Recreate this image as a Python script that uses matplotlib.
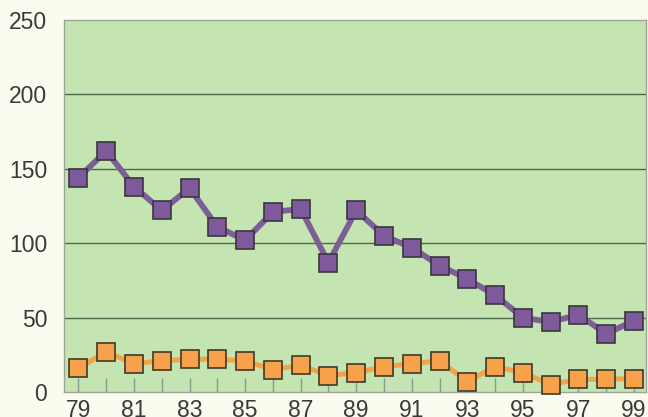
import matplotlib
matplotlib.use("Agg")
import matplotlib.pyplot as plt

years = list(range(79, 100))
purple_series = [144, 162, 138, 122, 137, 111, 102, 121, 123, 87, 122,
                 105, 97, 85, 76, 65, 50, 47, 52, 39, 48]
orange_series = [16, 27, 19, 21, 22, 22, 21, 15, 18, 11, 13,
                 17, 19, 21, 7, 17, 13, 5, 8.5, 8.5, 9]
x_tick_years = list(range(79, 100, 2))
y_ticks = [0, 50, 100, 150, 200, 250]

plt.rcParams['font.family'] = ['Liberation Sans', 'DejaVu Sans']

fig = plt.figure(figsize=(6.48, 4.17), dpi=100, facecolor='#fbfbef')
ax = fig.add_axes([0.0988, 0.060, 0.898, 0.892])
ax.set_facecolor('#c4e4b1')

ax.set_xlim(78.48, 99.43)
ax.set_ylim(0, 250)

for y in y_ticks[1:-1]:
    ax.axhline(y, color='#4d6b4a', linewidth=1.0, zorder=1)

ax.plot(years, purple_series, color='#7d5f98', linewidth=4.2,
        marker='s', markersize=12.5, markerfacecolor='#7e5a9b',
        markeredgecolor='#3b3640', markeredgewidth=1.2, zorder=3,
        clip_on=False)
ax.plot(years, orange_series, color='#f4a445', linewidth=3.6,
        marker='s', markersize=12.5, markerfacecolor='#f7a24a',
        markeredgecolor='#3f3a2c', markeredgewidth=1.2, zorder=3,
        clip_on=False)

ax.set_xticks(years)
ax.set_xticklabels([str(y) if y in x_tick_years else '' for y in years])
ax.set_yticks(y_ticks)
ax.set_yticklabels([str(v) for v in y_ticks])

ax.tick_params(axis='x', direction='in', length=10, width=1,
               color='#8a9a88', labelsize=16.5, labelcolor='#3a3a3a', pad=5)
ax.tick_params(axis='y', length=0, labelsize=16.5, labelcolor='#3a3a3a', pad=12)

for side in ['left', 'bottom', 'top', 'right']:
    ax.spines[side].set_color('#9aa698')
    ax.spines[side].set_linewidth(1.0)

fig.savefig('out.png', dpi=100, facecolor=fig.get_facecolor())
